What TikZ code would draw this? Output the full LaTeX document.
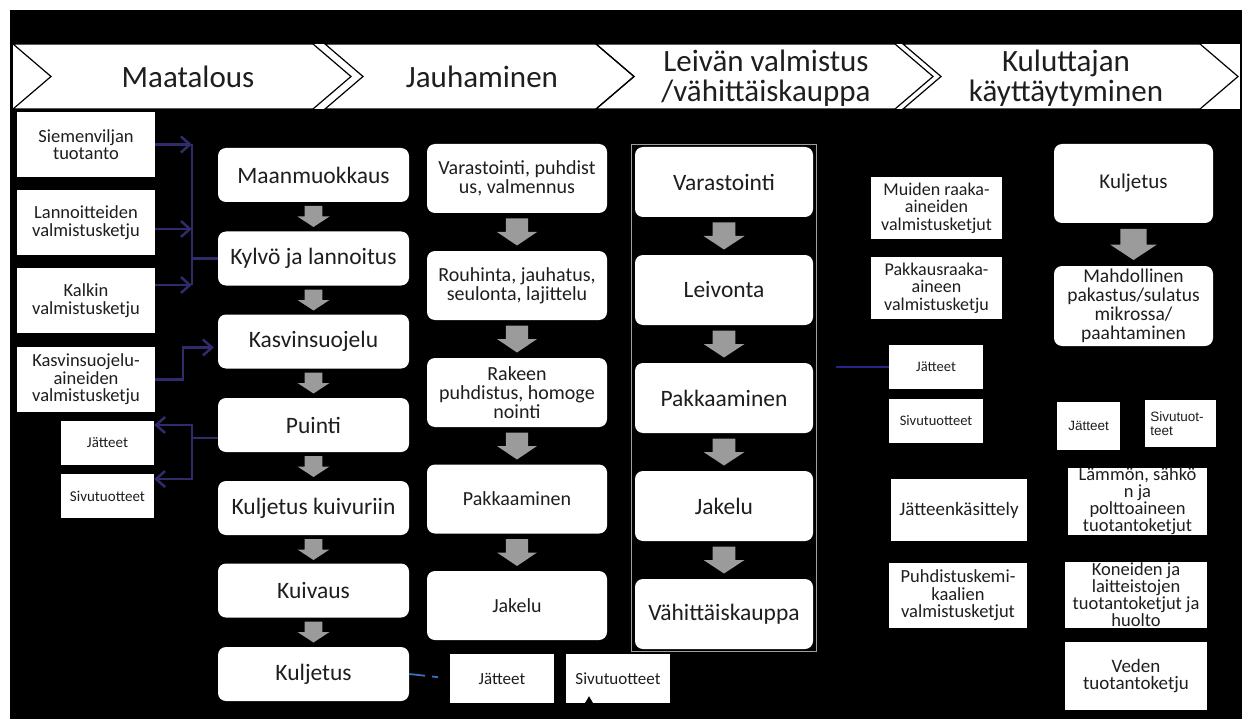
\documentclass[tikz,border=0pt]{standalone}
\usepackage{fontspec}
\setmainfont{Carlito}
\newfontfamily\arialf{Liberation Sans}
\usetikzlibrary{arrows.meta,calc,fit}
\definecolor{navyc}{RGB}{48,44,108}
\definecolor{garrc}{RGB}{155,155,155}
\definecolor{bluel}{RGB}{60,110,190}
\definecolor{txt}{RGB}{30,30,30}
\begin{document}
\begin{tikzpicture}[x=1pt,y=-1pt,
  rbox/.style={fill=white, rounded corners=8pt, inner sep=0pt, align=center, text=txt},
  sqbox/.style={fill=white, inner sep=0pt, align=center, text=txt},
  mbox/.style={rbox, minimum width=191, minimum height=54, font=\fontsize{23.5}{26}\selectfont},
  jbox/.style={rbox, minimum width=180, minimum height=69, font=\fontsize{20}{19}\selectfont},
  lbox/.style={rbox, minimum width=178, minimum height=70, font=\fontsize{23.5}{26}\selectfont},
  ibox/.style={sqbox, minimum width=138, minimum height=65, font=\fontsize{18.5}{17.5}\selectfont},
  wbox/.style={sqbox, minimum width=93, minimum height=44, font=\fontsize{15}{16}\selectfont},
  htext/.style={align=center, text=txt, font=\fontsize{31}{30.5}\selectfont},
  hdr/.style={draw=black, line width=1.2pt, line join=miter},
  navyl/.style={draw=navyc, line width=2.5pt},
  navya/.style={navyl, -{Straight Barb[length=9pt,width=16pt]}},
  pics/garr/.style n args={2}{code={\fill[garrc] (-0.56*#1,0) -- (0.56*#1,0) -- (0.56*#1,0.5*#2) -- (#1,0.5*#2) -- (0,#2) -- (-#1,0.5*#2) -- (-0.56*#1,0.5*#2) -- cycle;}}
]
\useasboundingbox (0,0) rectangle (1246,719);
\fill[white] (0,0) rectangle (1246,719);
\fill[black] (10,10) rectangle (1242,719);

% header chevrons
\fill[white] (13,44) rectangle (1240,109);
\draw[hdr] (13,44) -- (313,44) -- (351,76.5) -- (313,109) -- (13,109) -- (51,76.5) -- cycle;
\draw[hdr] (325,44) -- (596,44) -- (634,76.5) -- (596,109) -- (325,109) -- (363,76.5) -- cycle;
\draw[hdr] (596,44) -- (895,44) -- (933,76.5) -- (895,109) -- (596,109) -- (634,76.5) -- cycle;
\draw[hdr] (903,44) -- (1200,44) -- (1238,76.5) -- (1200,109) -- (903,109) -- (941,76.5) -- cycle;
\node[htext] (h1) at (188,77) {Maatalous};
\node[htext] (h2) at (482,77) {Jauhaminen};
\node[htext] (h3) at (766,78) {Leivän valmistus\\/vähittäiskauppa};
\node[htext] (h4) at (1066,78) {Kuluttajan\\käyttäytyminen};

% left input boxes
\node[ibox] (sv) at (86,144.5) {Siemenviljan\\tuotanto};
\node[ibox] (lv) at (86,222.5) {Lannoitteiden\\valmistusketju};
\node[ibox] (kv) at (86,300.5) {Kalkin\\valmistusketju};
\node[ibox] (ksv) at (86,379.5) {Kasvinsuojelu-\\aineiden\\valmistusketju};
\node[wbox] (jl) at (107.5,443) {Jätteet};
\node[wbox] (sl) at (107.5,496) {Sivutuotteet};

% Maatalous column
\node[mbox] (m1) at (313.5,175) {Maanmuokkaus};
\node[mbox] (m2) at (313.5,258.5) {Kylvö ja lannoitus};
\node[mbox] (m3) at (313.5,341.5) {Kasvinsuojelu};
\node[mbox] (m4) at (313.5,425) {Puinti};
\node[mbox] (m5) at (313.5,508) {Kuljetus kuivuriin};
\node[mbox] (m6) at (313.5,590.5) {Kuivaus};
\node[mbox] (m7) at (313.5,674) {Kuljetus};
\foreach \c in {175,258.5,341.5,425,508,590.5}
  \pic at (313.5,\c+31) {garr={16}{21}};

% Jauhaminen column
\node[jbox] (j1) at (517,178.5) {Varastointi, puhdist\\us, valmennus};
\node[jbox] (j2) at (517,285.5) {Rouhinta, jauhatus,\\seulonta, lajittelu};
\node[jbox] (j3) at (517,392.5) {Rakeen\\puhdistus, homoge\\nointi};
\node[jbox] (j4) at (517,499) {Pakkaaminen};
\node[jbox] (j5) at (517,605.5) {Jakelu};
\foreach \c in {178.5,285.5,392.5,499}
  \pic at (517,\c+40) {garr={20}{27}};
\node[sqbox, minimum width=104, minimum height=49, font=\fontsize{17}{18}\selectfont] (jb) at (502,678.5) {Jätteet};
\node[sqbox, minimum width=104, minimum height=49, font=\fontsize{17}{18}\selectfont] (sb) at (618,678.5) {Sivutuotteet};

% Leivan column
\node[lbox] (l1) at (724,182) {Varastointi};
\node[lbox] (l2) at (724,290) {Leivonta};
\node[lbox] (l3) at (724,398) {Pakkaaminen};
\node[lbox] (l4) at (724,506) {Jakelu};
\node[lbox] (l5) at (724,614) {Vähittäiskauppa};
\foreach \c in {182,290,398,506}
  \pic at (724,\c+40.5) {garr={20.5}{27}};
\node[draw=gray!75, line width=1.2pt, fit=(l1)(l5), inner xsep=3pt, inner ysep=2pt] (lframe) {};

% middle right boxes
\node[sqbox, minimum width=131, minimum height=62, font=\fontsize{18}{17.5}\selectfont] (mr) at (936.5,208) {Muiden raaka-\\aineiden\\valmistusketjut};
\node[sqbox, minimum width=131, minimum height=62, font=\fontsize{18}{17.5}\selectfont] (pr) at (936.5,288) {Pakkausraaka-\\aineen\\valmistusketju};
\node[sqbox, minimum width=94, minimum height=44, font=\fontsize{14.5}{16}\selectfont] (jm) at (936,367) {Jätteet};
\node[sqbox, minimum width=94, minimum height=44, font=\fontsize{14.5}{16}\selectfont] (sm) at (936,421) {Sivutuotteet};
\node[sqbox, minimum width=136, minimum height=62, font=\fontsize{19}{20}\selectfont] (jk) at (959,510) {Jätteenkäsittely};
\node[sqbox, minimum width=138, minimum height=65, font=\fontsize{18.5}{17.5}\selectfont] (pk) at (958,595.5) {Puhdistuskemi-\\kaalien\\valmistusketjut};

% consumer column
\node[rbox, minimum width=159, minimum height=79, font=\fontsize{21}{22}\selectfont] (k1) at (1133.5,183.5) {Kuljetus};
\node[rbox, minimum width=159, minimum height=80, font=\fontsize{19.5}{19}\selectfont] (k2) at (1133.5,306) {Mahdollinen\\pakastus/sulatus\\mikrossa/\\paahtaminen};
\pic at (1133.5,229) {garr={23.5}{31}};
\node[sqbox, minimum width=63, minimum height=48, font=\arialf\fontsize{13.5}{14}\selectfont] (jr) at (1088.5,426) {Jätteet};
\node[sqbox, minimum width=71, minimum height=47, align=left, font=\arialf\fontsize{13.5}{14}\selectfont] (sr) at (1180.5,423.5) {Sivutuot-\hspace*{4pt}\\teet\hspace*{38pt}};
\node[sqbox, minimum width=139, minimum height=67, font=\fontsize{18.5}{17}\selectfont] (lm) at (1137.5,501.5) {Lämmön, sähkö\\n ja\\polttoaineen\\tuotantoketjut};
\node[sqbox, minimum width=142, minimum height=66, font=\fontsize{18.5}{17}\selectfont] (ko) at (1136,595) {Koneiden ja\\laitteistojen\\tuotantoketjut ja\\huolto};
\node[sqbox, minimum width=142, minimum height=68, font=\fontsize{19}{17.5}\selectfont] (ve) at (1136,676) {Veden\\tuotantoketju};

% connectors: inputs to Kylvo
\coordinate (bj) at ($(m2.west)+(-26,0)$);
\coordinate (lva) at ($(lv.east)+(0,6.5)$);
\coordinate (kva) at ($(kv.east)+(0,-15.5)$);
\draw[navyl] (m2.west) -- (bj);
\draw[navyl] (sv.east -| bj) -- (kva -| bj);
\draw[navya] (sv.east) -- (sv.east -| bj);
\draw[navya] (lva) -- (lva -| bj);
\draw[navya] (kva) -- (kva -| bj);
% plant protection chemicals
\coordinate (m3in) at ($(m3.west)+(-4,6)$);
\draw[navya] (ksv.east) -- ++(28,0) |- (m3in);
% threshing outputs
\coordinate (pj) at ($(m4.west)+(0,13)$);
\coordinate (jla) at ($(jl.east)+(0,-18)$);
\coordinate (sla) at ($(sl.east)+(0,-17)$);
\draw[navyl] (pj) -- (pj -| bj);
\draw[navya] (pj -| bj) |- (jla);
\draw[navya] (pj -| bj) |- (sla);
% transport to waste
\draw[bluel, line width=1.8pt, dash pattern=on 16pt off 7pt on 6pt off 20pt] (m7.east) -- (jb.west);
% small arrow into by-products
\coordinate (sbin) at (589,719);
\draw[black, line width=1.2pt, -{Triangle[length=8pt,width=9pt]}] (sbin) -- ($(sb.south)+(-29,-7)$);
% line to waste (bakery)
\coordinate (jmin) at (836,367);
\draw[navyc!80!blue, line width=1.5pt] (jmin) -- (jm.west);
\end{tikzpicture}
\end{document}
